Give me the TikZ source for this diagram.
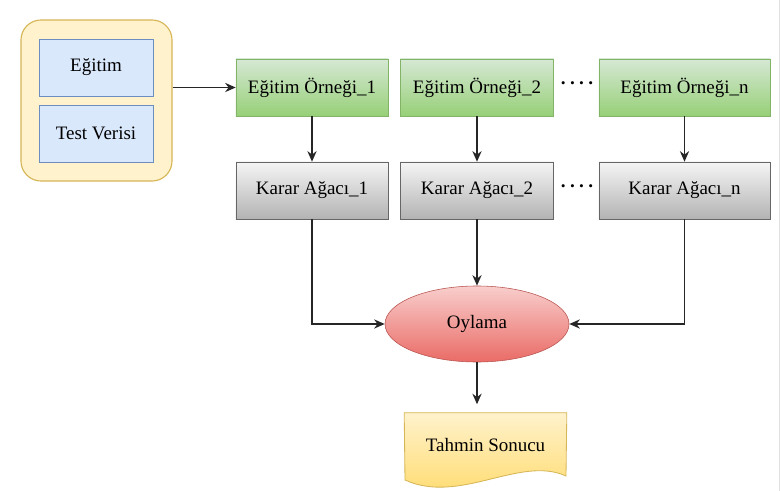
\documentclass[tikz,border=0pt]{standalone}
\usepackage{fontspec}
\setmainfont{LiberationSerif}[Extension=.ttf, UprightFont=*-Regular, BoldFont=*-Bold, ItalicFont=*-Italic, BoldItalicFont=*-BoldItalic]
\usetikzlibrary{arrows.meta,shapes.geometric}

\definecolor{kapFill}{HTML}{FFF2CC}
\definecolor{kapLine}{HTML}{D6B656}
\definecolor{maviFill}{HTML}{DAE8FC}
\definecolor{maviLine}{HTML}{6C8EBF}
\definecolor{yesilUst}{HTML}{D5E8D4}
\definecolor{yesilAlt}{HTML}{97D077}
\definecolor{yesilLine}{HTML}{82B366}
\definecolor{griUst}{HTML}{F5F5F5}
\definecolor{griAlt}{HTML}{B3B3B3}
\definecolor{griLine}{HTML}{666666}
\definecolor{kirmiziUst}{HTML}{F8CECC}
\definecolor{kirmiziAlt}{HTML}{EA6B66}
\definecolor{kirmiziLine}{HTML}{B85450}
\definecolor{sariUst}{HTML}{FFF2CC}
\definecolor{sariAlt}{HTML}{FFD966}

\tikzset{
  ok/.style={-{Stealth[length=7.5pt,width=6.5pt]}, line width=1.25pt, black!85},
  veri/.style={draw=maviLine, fill=maviFill, minimum width=2.85cm, minimum height=1.425cm},
  ornek/.style={draw=yesilLine, top color=yesilUst, bottom color=yesilAlt, minimum height=1.425cm},
  agac/.style={draw=griLine, top color=griUst, bottom color=griAlt, minimum height=1.425cm},
}

\begin{document}
\begin{tikzpicture}[x=0.025cm, y=-0.025cm, font=\fontsize{13.5}{16}\selectfont]
\useasboundingbox (0,0) rectangle (780,491);
\draw[black!12, line width=0.6pt] (779,0) -- (779,491);

% Veri kutusu
\node[draw=kapLine, fill=kapFill, rounded corners=0.5cm, line width=0.8pt,
      minimum width=3.775cm, minimum height=4.025cm] (veri) at (96.5,100.5) {};
\node[veri] (egitim) at (96,67.5) {Eğitim};
\node[veri] (test) at (96,133.5) {Test Verisi};

% Eğitim örnekleri
\node[ornek, minimum width=3.8cm] (orn1) at (312,87.5) {Eğitim Örneği\_1};
\node[ornek, minimum width=3.825cm] (orn2) at (477,87.5) {Eğitim Örneği\_2};
\node[ornek, minimum width=4.275cm] (ornn) at (684.5,87.5) {Eğitim Örneği\_n};
\node (nokta1) at (577,86) {\textbf{·\kern2pt·\kern2pt·\kern2pt·}};

% Karar ağaçları
\node[agac, minimum width=3.8cm] (agac1) at (312,190.5) {Karar Ağacı\_1};
\node[agac, minimum width=3.825cm] (agac2) at (477,190.5) {Karar Ağacı\_2};
\node[agac, minimum width=4.275cm] (agacn) at (684.5,190.5) {Karar Ağacı\_n};
\node (nokta2) at (577,189) {\textbf{·\kern2pt·\kern2pt·\kern2pt·}};

% Oylama
\node[ellipse, draw=kirmiziLine, top color=kirmiziUst, bottom color=kirmiziAlt,
      minimum width=4.6cm, minimum height=1.9cm, inner sep=0pt] (oylama) at (477,324) {Oylama};

% Tahmin sonucu (belge)
\node[minimum width=4.05cm, minimum height=1.6cm] (sonuc) at (485.5,445) {};
\shade[top color=sariUst, bottom color=sariAlt, draw=kapLine, line width=0.6pt]
  (sonuc.north west) -- (sonuc.north east) -- (566,476)
  .. controls (520,455) and (460,505) .. (405,480) -- cycle;
\node (sonucyazi) at (sonuc) {Tahmin Sonucu};

% Oklar
\draw[ok] (veri.east |- orn1.west) -- (orn1.west);
\draw[ok] (orn1) -- (agac1);
\draw[ok] (orn2) -- (agac2);
\draw[ok] (ornn) -- (agacn);
\draw[ok] (agac1.south) |- (oylama.west);
\draw[ok] (agac2.south) -- (oylama.north);
\draw[ok] (agacn.south) |- (oylama.east);
\draw[ok, shorten >=6pt] (oylama.south) -- (oylama.south |- sonuc.north);

\end{tikzpicture}
\end{document}
